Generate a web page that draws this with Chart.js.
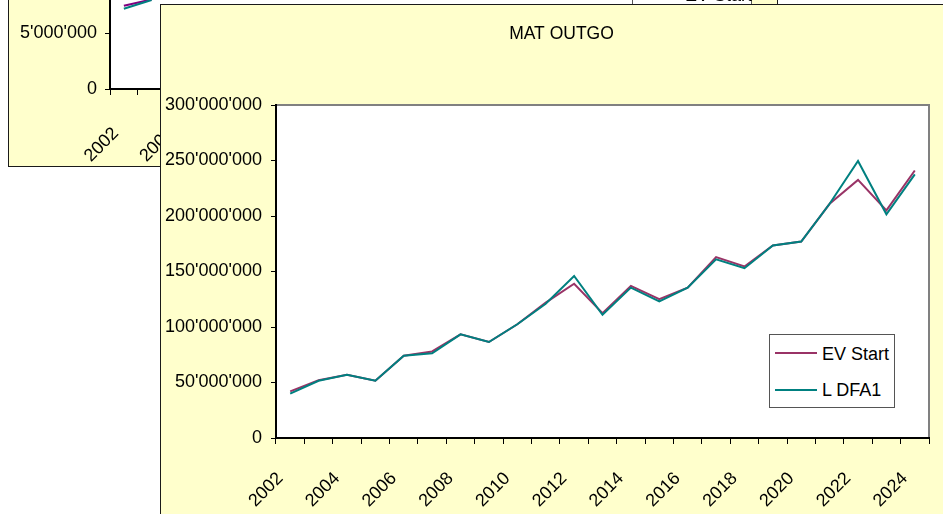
<!DOCTYPE html>
<html>
<head>
<meta charset="utf-8">
<script src="https://cdn.jsdelivr.net/npm/chart.js@4.4.1/dist/chart.umd.min.js"></script>
<style>
html,body{margin:0;padding:0;background:#fff;overflow:hidden;width:943px;height:514px;}
body{position:relative;font-family:'Liberation Sans',Arial,sans-serif;}
.win{position:absolute;box-sizing:border-box;border:1px solid #1a1a1a;background:#FFFFCC;overflow:hidden;}
.win canvas{position:absolute;left:0;top:0;}
.legend{position:absolute;box-sizing:border-box;background:#fff;border:1px solid #555;}
.legend .ln{position:absolute;height:2px;width:42px;left:5px;}
.legend .tx{position:absolute;left:52px;font-size:18px;line-height:18px;color:#000;white-space:nowrap;font-family:'Liberation Sans',Arial,sans-serif;}
</style>
</head>
<body>
<div id="smallWin" class="win" style="left:8px;top:-300px;width:770px;height:467px;z-index:1">
  <canvas id="small" width="768" height="465"></canvas>
  <div id="smallLegend" class="legend" style="left:623px;top:274px;width:120px;height:74px"></div>
</div>
<div id="mainWin" class="win" style="left:160px;top:4px;width:820px;height:530px;z-index:2">
  <canvas id="main" width="801" height="520"></canvas>
  <div id="mainLegend" class="legend" style="left:608px;top:329px;width:126px;height:74px"></div>
</div>
<script>
// ---- data ----
const years = ['2002','2003','2004','2005','2006','2007','2008','2009','2010','2011','2012','2013',
               '2014','2015','2016','2017','2018','2019','2020','2021','2022','2023','2024'];
const xTickLabels = ['2002','','2004','','2006','','2008','','2010','','2012','',
                     '2014','','2016','','2018','','2020','','2022','','2024'];
const seriesNames = ['EV Start', 'L DFA1'];
const evStart = [42000000, 52000000, 57000000, 51600000, 74200000, 78000000, 93400000, 86500000,
                 102500000, 122000000, 139000000, 112500000, 137000000, 125000000, 135500000,
                 163000000, 154500000, 173500000, 177000000, 211000000, 232500000, 205000000, 241000000];
const lDfa1   = [40000000, 51600000, 57000000, 51600000, 74200000, 76300000, 93400000, 86500000,
                 102500000, 121000000, 146000000, 111000000, 135500000, 123000000, 135500000,
                 161000000, 153000000, 173500000, 177000000, 211000000, 249500000, 201500000, 237500000];
const yTicksMain = [0, 50000000, 100000000, 150000000, 200000000, 250000000, 300000000];
const mainTitle = 'MAT OUTGO';

// background (partly hidden) chart
const smallEvStart = [7440000, 8000000];
const smallLDfa1   = [7170000, 7950000];
const yTicksSmall = [0, 5000000, 10000000, 15000000, 20000000, 25000000, 30000000];

// ---- helpers ----
const FONT = "'Liberation Sans', Arial, sans-serif";
const fmt = v => String(Math.round(v)).replace(/\B(?=(\d{3})+(?!\d))/g, "'");

const plotFrame = {
  id: 'plotFrame',
  beforeDraw(chart) {
    const {ctx, chartArea: a} = chart;
    ctx.save();
    ctx.fillStyle = '#ffffff';
    ctx.fillRect(a.left, a.top, a.width, a.height);
    ctx.strokeStyle = '#808080';
    ctx.lineWidth = 2;
    ctx.strokeRect(a.left, a.top, a.width, a.height);
    ctx.restore();
  }
};

function buildLegend(chart, el) {
  const items = chart.data.datasets;
  items.forEach((ds, i) => {
    const ln = document.createElement('div');
    ln.className = 'ln';
    ln.style.top = (17 + i * 37) + 'px';
    ln.style.background = ds.borderColor;
    el.appendChild(ln);
    const tx = document.createElement('div');
    tx.className = 'tx';
    tx.style.top = (10 + i * 36) + 'px';
    tx.textContent = ds.label;
    el.appendChild(tx);
  });
}

function makeChart(canvas, cfg) {
  const scales = {
    x: {
      type: 'category',
      offset: true,
      grid: {offset: true, drawOnChartArea: false, drawTicks: true, tickLength: 6,
             tickColor: '#000', lineWidth: 1},
      border: {display: true, color: '#000', width: 2},
      ticks: {autoSkip: false, minRotation: 45, maxRotation: 45,
              padding: cfg.xPad, labelOffset: cfg.xLabelOffset, color: '#000',
              font: {family: FONT, size: 18},
              callback: (v, i) => xTickLabels[i]},
      afterFit: s => { s.height = cfg.xHeight; }
    },
    y: {
      min: cfg.yTicks[0],
      max: cfg.yTicks[cfg.yTicks.length - 1],
      afterBuildTicks: s => { s.ticks = cfg.yTicks.map(v => ({value: v})); },
      grid: {drawOnChartArea: false, drawTicks: true, tickLength: 5, tickColor: '#000', lineWidth: 1},
      border: {display: true, color: '#000', width: 2},
      ticks: {padding: cfg.yPad, color: '#000', font: {family: FONT, size: 18},
              callback: v => fmt(v)},
      afterFit: s => { s.width = cfg.yWidth; }
    }
  };
  if (cfg.rightGap) {
    // empty spacer on the right side of the plot (no marks, no labels)
    scales.spacer = {
      type: 'linear', position: 'right', min: 0, max: 1,
      grid: {display: false, drawTicks: false},
      border: {display: false},
      ticks: {display: false},
      afterFit: s => { s.width = cfg.rightGap; }
    };
  }
  return new Chart(canvas, {
    type: 'line',
    data: {
      labels: years,
      datasets: [
        {label: seriesNames[0], data: cfg.ev, borderColor: cfg.evColor, backgroundColor: cfg.evColor,
         borderWidth: 2, pointRadius: 0, tension: 0, order: 1, yAxisID: 'y'},
        {label: seriesNames[1], data: cfg.ld, borderColor: '#008080', backgroundColor: '#008080',
         borderWidth: 2, pointRadius: 0, tension: 0, order: 0, yAxisID: 'y'}
      ]
    },
    options: {
      responsive: false,
      animation: false,
      devicePixelRatio: 1,
      layout: {padding: cfg.padding},
      plugins: {
        legend: {display: false},
        tooltip: {enabled: false},
        title: cfg.title ? {
          display: true, text: cfg.title, color: '#000',
          font: {family: FONT, size: 17.5, weight: 'normal'},
          padding: {top: 19, bottom: 60}
        } : {display: false}
      },
      scales
    },
    plugins: [plotFrame]
  });
}

const smallChart = makeChart(document.getElementById('small'), {
  ev: smallEvStart, ld: smallLDfa1, evColor: '#800080',
  padding: {left: 0, right: 8, top: 52, bottom: 0},
  title: null, xPad: 28, xLabelOffset: -8, xHeight: 77,
  yTicks: yTicksSmall, yPad: 8, yWidth: 101, rightGap: 0
});

const mainChart = makeChart(document.getElementById('main'), {
  ev: evStart, ld: lDfa1, evColor: '#993366',
  padding: {left: 0, right: 0, top: 0, bottom: 0},
  title: mainTitle, xPad: 24, xLabelOffset: -10, xHeight: 87,
  yTicks: yTicksMain, yPad: 9, yWidth: 115, rightGap: 33
});

buildLegend(smallChart, document.getElementById('smallLegend'));
buildLegend(mainChart, document.getElementById('mainLegend'));
</script>
</body>
</html>
